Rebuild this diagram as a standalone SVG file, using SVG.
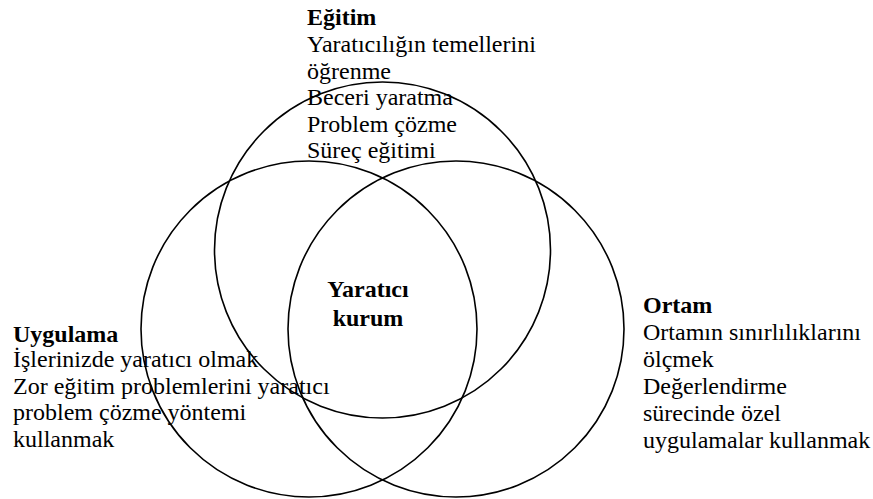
<svg xmlns="http://www.w3.org/2000/svg" width="873" height="499" viewBox="0 0 873 499">
  <style>
    .ring { fill: none; stroke: #000; stroke-width: 1.6; }
    text { font-family: 'Liberation Serif', 'Tinos', 'DejaVu Serif', serif; font-size: 24px; fill: #000; }
    .head { font-weight: bold; }
    .core { font-weight: bold; text-anchor: middle; }
  </style>
  <rect width="873" height="499" fill="#fff"/>

  <!-- three overlapping circles -->
  <g id="circles">
    <circle id="circle-egitim" class="ring" cx="382.5" cy="250" r="168"/>
    <circle id="circle-uygulama" class="ring" cx="309" cy="329" r="168"/>
    <circle id="circle-ortam" class="ring" cx="456" cy="329" r="168"/>
  </g>

  <g id="node-egitim">
    <text x="307" y="25" class="head">Eğitim</text>
    <text x="307" y="52">Yaratıcılığın temellerini</text>
    <text x="307" y="78.5">öğrenme</text>
    <text x="307" y="105">Beceri yaratma</text>
    <text x="307" y="132">Problem çözme</text>
    <text x="307" y="158">Süreç eğitimi</text>
  </g>

  <g id="node-uygulama">
    <text x="13" y="341.5" class="head">Uygulama</text>
    <text x="13" y="367">İşlerinizde yaratıcı olmak</text>
    <text x="13" y="393.5">Zor eğitim problemlerini yaratıcı</text>
    <text x="13" y="420">problem çözme yöntemi</text>
    <text x="13" y="446.5">kullanmak</text>
  </g>

  <g id="node-ortam">
    <text x="643" y="313" class="head">Ortam</text>
    <text x="643" y="340">Ortamın sınırlılıklarını</text>
    <text x="643" y="367">ölçmek</text>
    <text x="643" y="394">Değerlendirme</text>
    <text x="643" y="421">sürecinde özel</text>
    <text x="643" y="448">uygulamalar kullanmak</text>
  </g>

  <g id="node-center">
    <text x="368" y="297" class="core">Yaratıcı</text>
    <text x="368" y="326" class="core">kurum</text>
  </g>

  <g id="connectors"/>
</svg>
